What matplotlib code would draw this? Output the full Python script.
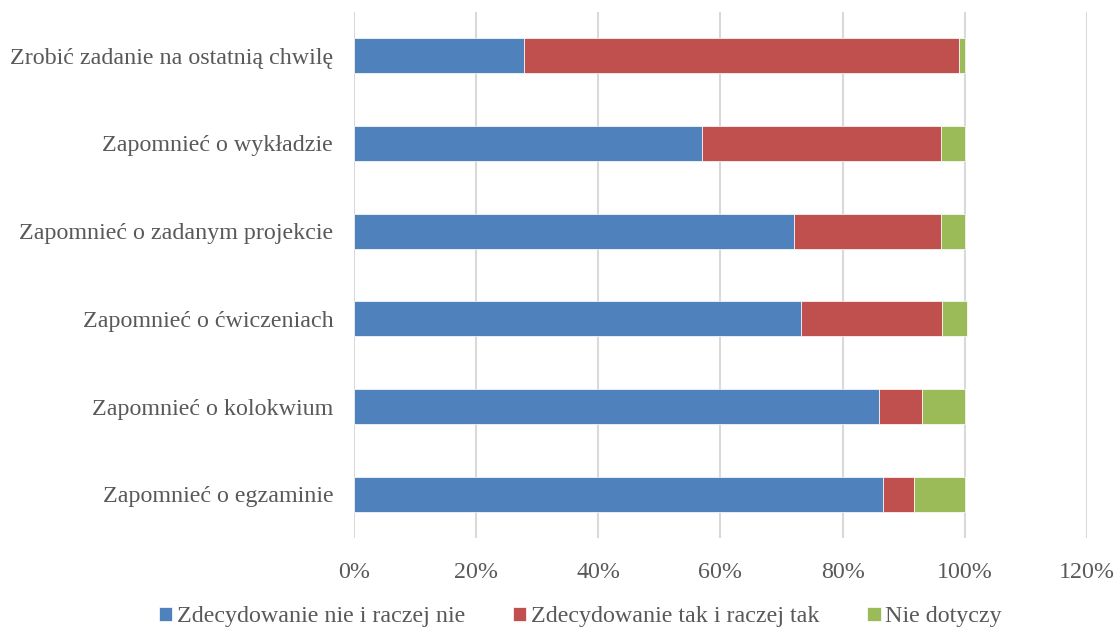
import matplotlib.pyplot as plt
import numpy as np
from matplotlib.ticker import PercentFormatter

# categories, bottom to top as drawn
categories = ["Zapomnieć o egzaminie", "Zapomnieć o kolokwium",
              "Zapomnieć o ćwiczeniach", "Zapomnieć o zadanym projekcie",
              "Zapomnieć o wykładzie", "Zrobić zadanie na ostatnią chwilę"]
nie = [86.6, 86.0, 73.2, 72.0, 57.0, 27.8]
tak = [5.1, 7.0, 23.0, 24.1, 39.1, 71.2]
nie_dotyczy = [8.3, 7.0, 4.1, 3.9, 3.9, 1.0]
series_names = ["Zdecydowanie nie i raczej nie", "Zdecydowanie tak i raczej tak",
                "Nie dotyczy"]
colors = ["#4f81bd", "#c0504d", "#9bbb59"]

plt.rcParams["font.family"] = ["Liberation Serif", "DejaVu Serif"]
text_col = "#595959"

fig = plt.figure(figsize=(11.16, 6.3), dpi=100)
ax = fig.add_axes([0.3172, 0.146, 0.6568, 0.835])

y = np.arange(len(categories))
left = np.zeros(len(categories))
for vals, name, c in zip([nie, tak, nie_dotyczy], series_names, colors):
    ax.barh(y, vals, left=left, height=0.4, color=c, label=name,
            edgecolor="white", linewidth=0.5, zorder=3)
    left += np.array(vals)

ax.set_xlim(0, 120)
ax.set_ylim(-0.5, len(categories) - 0.5)
ax.set_xticks(np.arange(0, 121, 20))
ax.xaxis.set_major_formatter(PercentFormatter(decimals=0))
ax.set_yticks(y)
ax.set_yticklabels(categories)
ax.grid(axis="x", color="#d9d9d9", linewidth=1.5, zorder=0)
for s in ax.spines.values():
    s.set_visible(False)
ax.tick_params(axis="both", length=0, labelsize=17.3, labelcolor=text_col)
ax.tick_params(axis="y", pad=15)
ax.tick_params(axis="x", pad=17)

ax.legend(loc="center", bbox_to_anchor=(0.52, 0.021), bbox_transform=fig.transFigure,
          ncol=3, frameon=False, fontsize=17.3, labelcolor=text_col,
          handlelength=0.55, handleheight=0.55, handletextpad=0.2, columnspacing=2.0)

fig.savefig("out.png", dpi=100)
